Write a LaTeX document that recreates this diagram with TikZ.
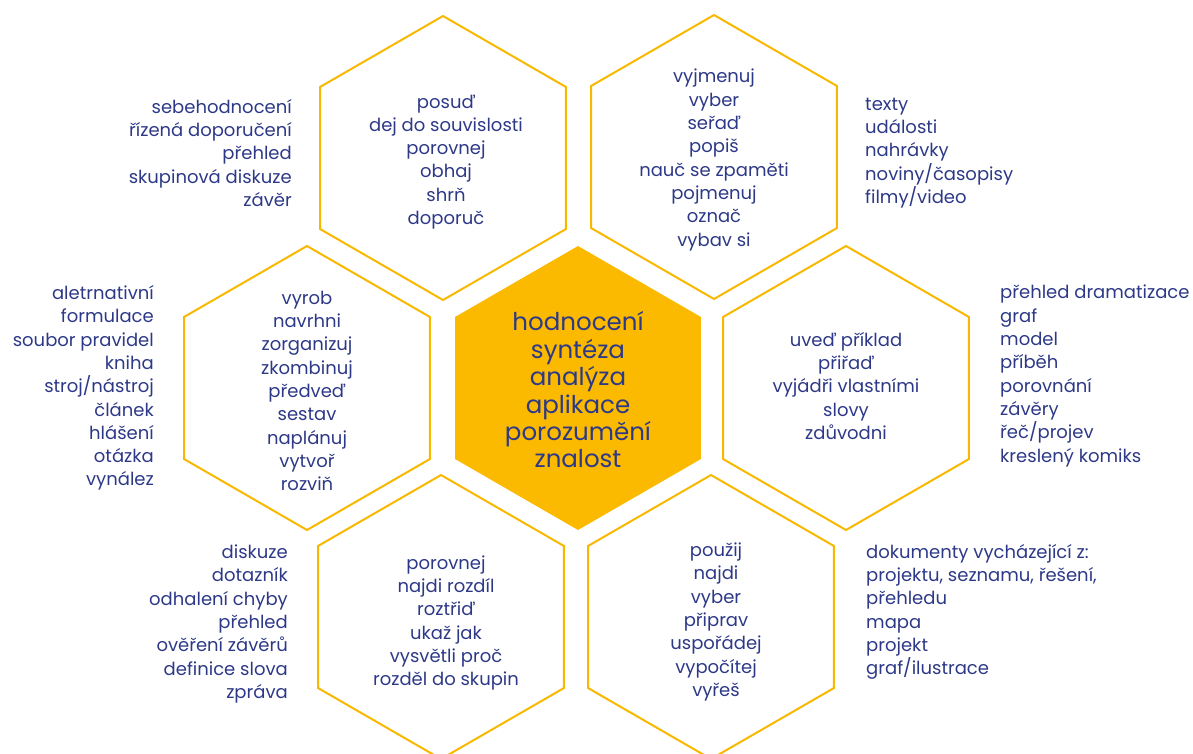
\documentclass[tikz,border=0pt]{standalone}
\usepackage{fontspec}
\setmainfont{Poppins}
\usetikzlibrary{shapes.geometric}
\definecolor{hexyellow}{HTML}{F9B800}
\definecolor{hexfill}{HTML}{FBBA00}
\definecolor{navy}{HTML}{2D3987}
\tikzset{
  hexo/.style={regular polygon, regular polygon sides=6, regular polygon rotate=30,
    minimum size=284pt, inner sep=0pt, draw=hexyellow, line width=2pt},
  hexc/.style={regular polygon, regular polygon sides=6, regular polygon rotate=30,
    minimum size=284pt, inner sep=0pt, fill=hexfill},
  txt/.style={text=navy, align=center, inner sep=0pt, font=\fontsize{18}{23.3}\selectfont},
  txtl/.style={text=navy, align=left, inner sep=0pt, font=\fontsize{18}{23.3}\selectfont},
  txtr/.style={text=navy, align=right, inner sep=0pt, font=\fontsize{18}{23.3}\selectfont},
  ctxt/.style={text=navy, align=center, inner sep=0pt, font=\fontsize{24.5}{27.4}\selectfont},
}
\begin{document}
\begin{tikzpicture}[x=1pt,y=-1pt]
\useasboundingbox (0,0) rectangle (1193,754);
% hexagons
\node[hexc] (c) at (578,388) {};
\node[hexo] (tl) at (443,158) {};
\node[hexo] (tr) at (714,157) {};
\node[hexo] (ml) at (307,388) {};
\node[hexo] (mr) at (846,388) {};
\node[hexo] (bl) at (441,617) {};
\node[hexo] (br) at (711,617) {};
% central text
\node[ctxt] (ct) at (578,390) {hodnocení\\syntéza\\analýza\\aplikace\\porozumění\\znalost};
% hexagon texts
\node[txt] (tlt) at (446,162) {posuď\\dej do souvislosti\\porovnej\\obhaj\\shrň\\doporuč};
\node[txt] (trt) at (714,160) {vyjmenuj\\vyber\\seřaď\\popiš\\nauč se zpaměti\\pojmenuj\\označ\\vybav si};
\node[txt] (mlt) at (307,391) {vyrob\\navrhni\\zorganizuj\\zkombinuj\\předveď\\sestav\\naplánuj\\vytvoř\\rozviň};
\node[txt] (mrt) at (846,386) {uveď příklad\\přiřaď\\vyjádři vlastními\\slovy\\zdůvodni};
\node[txt] (blt) at (446,623) {porovnej\\najdi rozdíl\\roztřiď\\ukaž jak\\vysvětli proč\\rozděl do skupin};
\node[txt] (brt) at (716,622) {použij\\najdi\\vyber\\připrav\\uspořádej\\vypočítej\\vyřeš};
% outside lists
\node[txtr, anchor=east] (tlo) at (292,153) {sebehodnocení\\řízená doporučení\\přehled\\skupinová diskuze\\závěr};
\node[txtr, anchor=east] (mlo) at (154,388) {aletrnativní\\formulace\\soubor pravidel\\kniha\\stroj/nástroj\\článek\\hlášení\\otázka\\vynález};
\node[txtr, anchor=east] (blo) at (288,624) {diskuze\\dotazník\\odhalení chyby\\přehled\\ověření závěrů\\definice slova\\zpráva};
\node[txtl, anchor=west] (tro) at (865,153) {texty\\události\\nahrávky\\noviny/časopisy\\filmy/video};
\node[txtl, anchor=west] (mro) at (1000,376) {přehled dramatizace\\graf\\model\\příběh\\porovnání\\závěry\\řeč/projev\\kreslený komiks};
\node[txtl, anchor=west] (bro) at (866,612) {dokumenty vycházející z:\\projektu, seznamu, řešení,\\přehledu\\mapa\\projekt\\graf/ilustrace};
\end{tikzpicture}
\end{document}
